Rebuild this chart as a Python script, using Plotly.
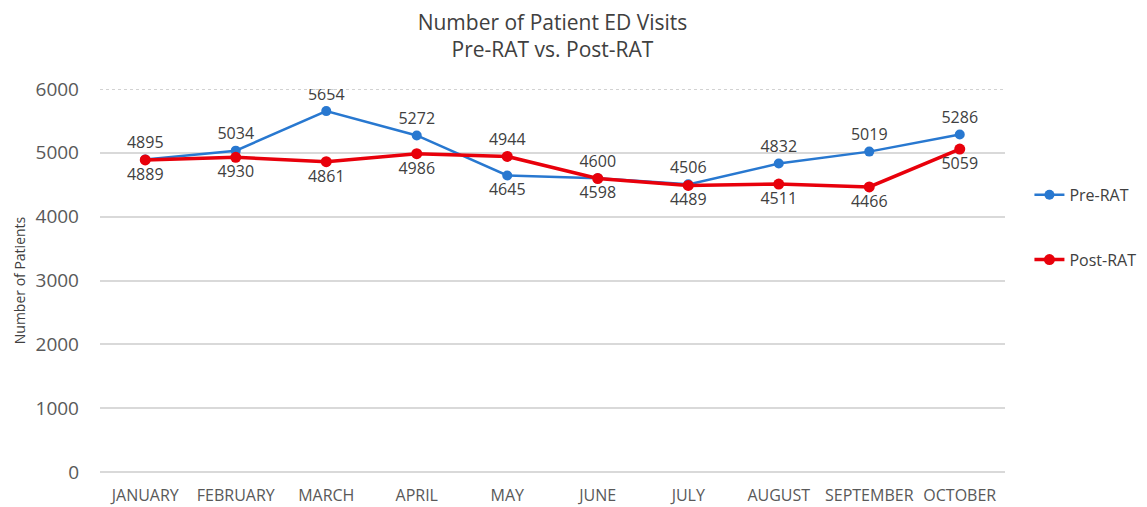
import plotly.graph_objects as go

months = ["JANUARY", "FEBRUARY", "MARCH", "APRIL", "MAY", "JUNE", "JULY",
          "AUGUST", "SEPTEMBER", "OCTOBER"]
pre_rat = [4895, 5034, 5654, 5272, 4645, 4600, 4506, 4832, 5019, 5286]
post_rat = [4889, 4930, 4861, 4986, 4944, 4598, 4489, 4511, 4466, 5059]
y_ticks = [0, 1000, 2000, 3000, 4000, 5000, 6000]
pre_pos = ["top center"] * 10
pre_pos[4] = "bottom center"
post_pos = ["bottom center"] * 10
post_pos[4] = "top center"

FONT = "Open Sans"
W, H = 1139, 499
fig = go.Figure()
fig.add_trace(go.Scatter(
    x=months, y=pre_rat, name="Pre-RAT", mode="lines+markers+text",
    line=dict(color="#2878d0", width=2.5), marker=dict(size=10, color="#2878d0"),
    text=[str(v) for v in pre_rat], textposition=pre_pos,
    textfont=dict(size=16, color="#404040", family=FONT),
    legendgroup="a"))
fig.add_trace(go.Scatter(
    x=months, y=post_rat, name="Post-RAT", mode="lines+markers+text",
    line=dict(color="#e8000b", width=3.5), marker=dict(size=11, color="#e8000b"),
    text=[str(v) for v in post_rat], textposition=post_pos,
    textfont=dict(size=16, color="#404040", family=FONT),
    legendgroup="b"))

fig.add_shape(type="line", xref="paper", yref="y", x0=0, x1=1, y0=6000, y1=6000,
              line=dict(color="#a6a6a6", width=1, dash="dot"), layer="below")

fig.update_layout(
    width=W, height=H,
    margin=dict(l=92, r=142, t=81, b=35, autoexpand=False),
    paper_bgcolor="white", plot_bgcolor="white",
    font=dict(family=FONT, color="#595959"),
    title=dict(text="Number of Patient ED Visits<br>Pre-RAT vs. Post-RAT",
               x=0.5, xanchor="center", xref="paper", y=1 - 22 / H, yanchor="middle",
               font=dict(size=21, color="#404040", family=FONT)),
    xaxis=dict(range=[-0.5, 9.5], showgrid=False, showline=False, ticks="",
               tickfont=dict(size=16, color="#595959"), zeroline=False,
               ticklabelstandoff=12, automargin=False),
    yaxis=dict(range=[0, 6000], tickvals=y_ticks,
               showgrid=True, gridcolor="#d9d9d9", gridwidth=1.5,
               zeroline=True, zerolinecolor="#d9d9d9", zerolinewidth=1.5,
               tickfont=dict(size=19, color="#595959"), ticks="",
               ticklabelstandoff=20, automargin=False,
               title=dict(text="Number of Patients", font=dict(size=14, color="#404040"),
                          standoff=6)),
    legend=dict(x=1.027, xanchor="left", y=0.768, yanchor="top",
                font=dict(size=16, color="#404040"), tracegroupgap=41,
                traceorder="grouped", itemwidth=30),
    showlegend=True,
)
fig.write_html("out.html")
